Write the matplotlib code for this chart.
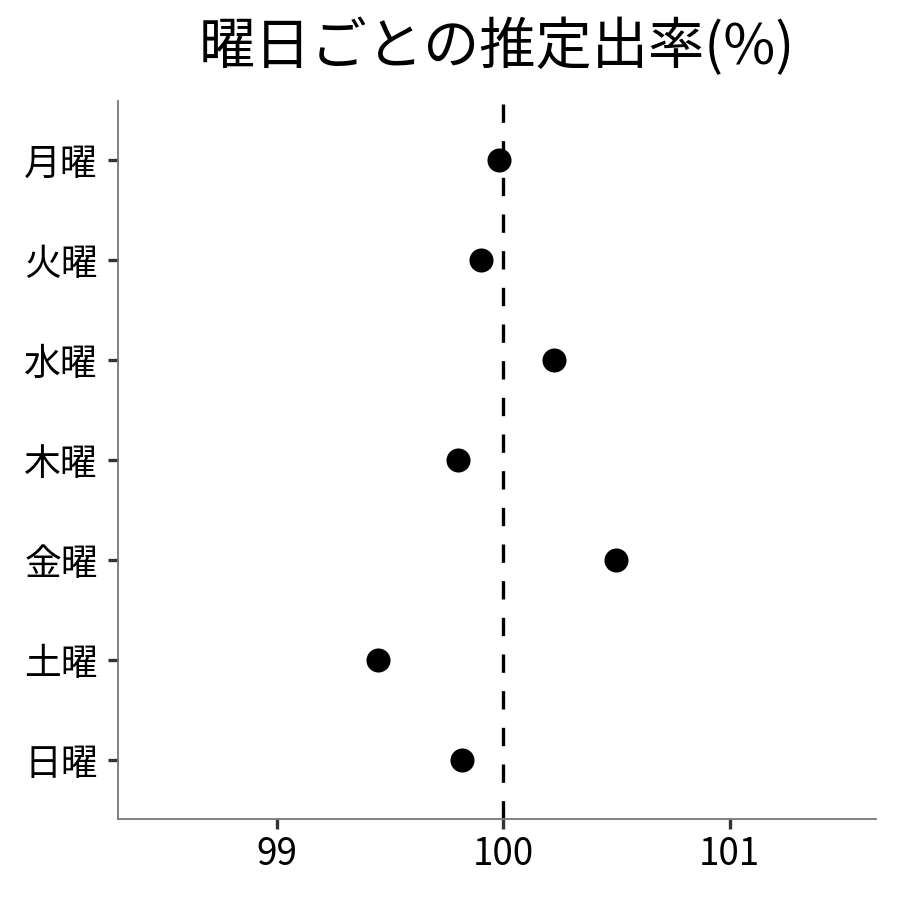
import matplotlib.pyplot as plt
import numpy as np

plt.rcParams['font.family'] = ['Noto Sans CJK JP', 'DejaVu Sans']

days = ['月曜', '火曜', '水曜', '木曜', '金曜', '土曜', '日曜']
rates = [99.98, 99.90, 100.225, 99.80, 100.50, 99.446, 99.82]
xticks = [99, 100, 101]

fig = plt.figure(figsize=(9, 9), dpi=100)
ax = fig.add_axes([0.131, 0.09, 0.842, 0.798])

ypos = np.arange(len(days))
ax.axvline(100, color='black', lw=2.4, dashes=(5.5, 5.5), zorder=1)
ax.scatter(rates, ypos, s=300, color='black', zorder=3, linewidths=0)

ax.set_xlim(98.298, 101.645)
ax.set_ylim(len(days) - 1 + 0.59, -0.59)
ax.set_yticks(ypos)
ax.set_yticklabels(days)
ax.set_xticks(xticks)
ax.set_xticklabels([str(t) for t in xticks])

for side in ['top', 'right']:
    ax.spines[side].set_visible(False)
for side in ['left', 'bottom']:
    ax.spines[side].set_color('#777777')
    ax.spines[side].set_linewidth(1.3)
ax.tick_params(axis='both', length=7.5, width=2.4, color='#333333',
               labelsize=26.5, labelcolor='black')
ax.tick_params(axis='y', pad=7)
ax.tick_params(axis='x', pad=4)

fig.text(0.552, 0.947, '曜日ごとの推定出率(%)', ha='center', va='center', fontsize=40.5)

fig.savefig('out.png', dpi=100)
